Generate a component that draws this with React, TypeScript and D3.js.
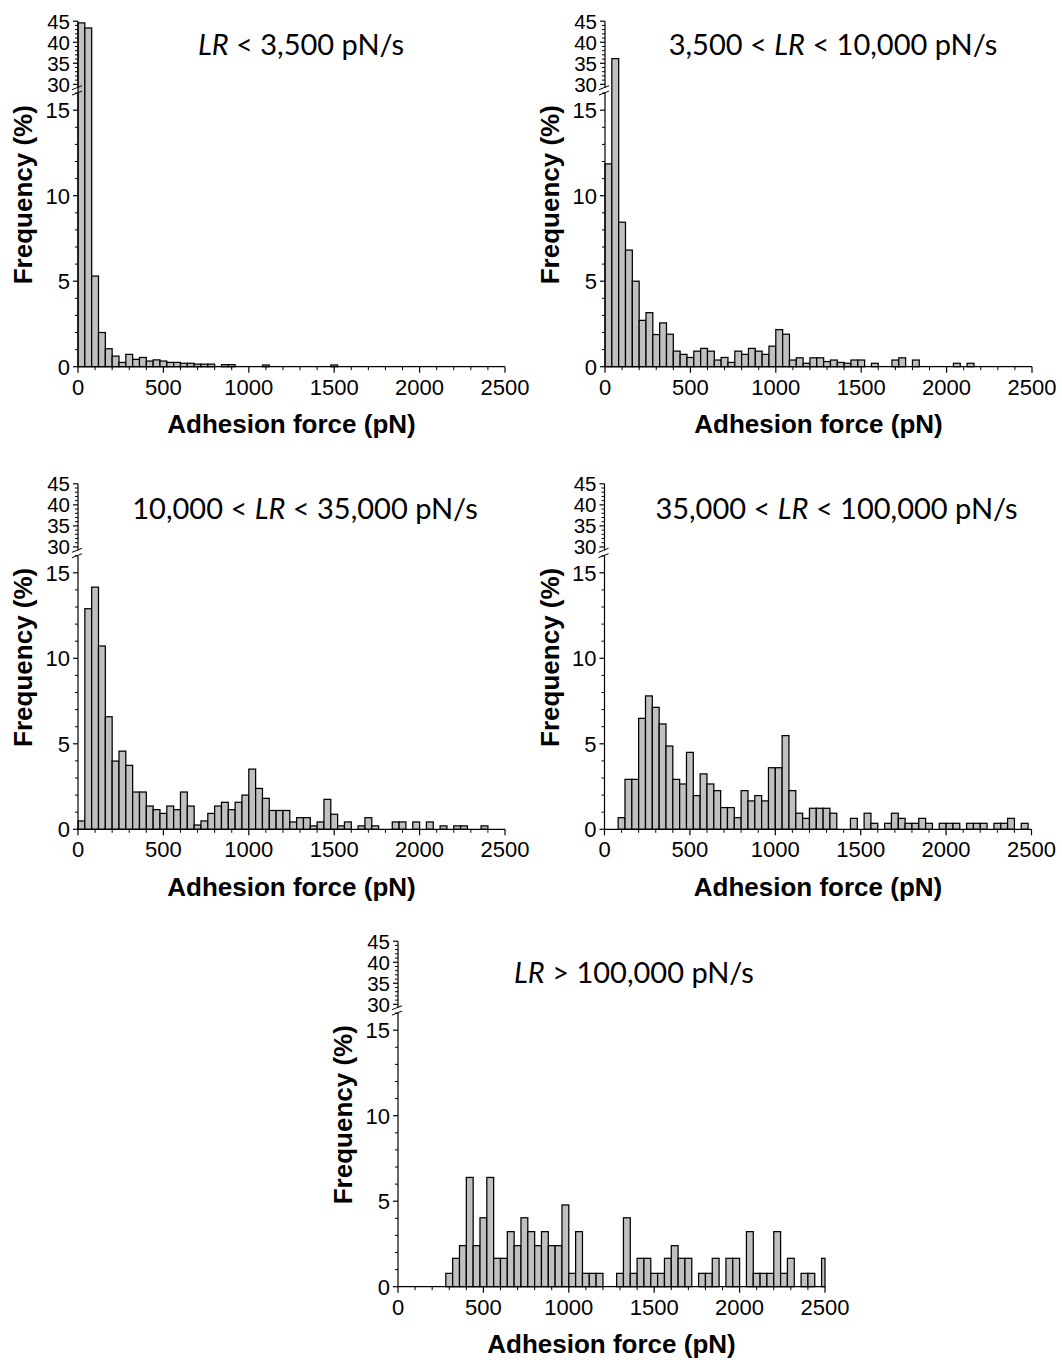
import React from "react";
import * as d3 from "d3";

// adhesion force histograms, 40 pN bins starting at 0 (bin i = [40i, 40i+40))
const binWidth = 40;
const forceMax = 2500;

const lr1 = [
  44.6, 43.4, 5.3, 2.0, 1.05, 0.62, 0.25, 0.72, 0.43, 0.54, 0.33, 0.4, 0.33, 0.25, 0.25, 0.2,
  0.2, 0.15, 0.15, 0.15, 0, 0.12, 0.12, 0, 0, 0, 0, 0.1, 0, 0, 0, 0,
  0, 0, 0, 0, 0, 0.1, 0, 0, 0, 0, 0, 0, 0, 0, 0, 0,
  0, 0, 0, 0, 0, 0, 0, 0, 0, 0, 0, 0, 0, 0, 0,
];
const lr2 = [
  11.86, 36.1, 8.45, 6.82, 5.0, 2.71, 3.16, 1.88, 2.56, 1.9, 0.91, 0.72, 0.54, 0.91, 1.07, 0.91,
  0.39, 0.54, 0.25, 0.91, 0.72, 1.07, 0.91, 0.72, 1.2, 2.17, 1.9, 0.39, 0.52, 0.2, 0.52, 0.52,
  0.3, 0.39, 0.25, 0.2, 0.39, 0.39, 0, 0.2, 0, 0, 0.39, 0.52, 0, 0.39, 0, 0,
  0, 0, 0, 0.2, 0, 0.2, 0, 0, 0, 0, 0, 0, 0, 0, 0,
];
const lr3 = [
  0.49, 12.9, 14.16, 10.72, 6.58, 3.99, 4.57, 3.74, 2.18, 2.18, 1.36, 1.15, 0.93, 1.36, 1.15, 2.18,
  1.36, 0.25, 0.49, 0.93, 1.36, 1.58, 1.15, 1.58, 2.0, 3.52, 2.39, 1.81, 1.1, 1.1, 1.1, 0.43,
  0.68, 0.68, 0.2, 0.43, 1.75, 0.88, 0.2, 0.43, 0, 0.2, 0.68, 0.2, 0, 0, 0.43, 0.43,
  0, 0.43, 0, 0.43, 0, 0.2, 0, 0.2, 0.2, 0, 0, 0.2, 0, 0, 0,
];
const lr4 = [
  0, 0, 0.68, 2.92, 2.92, 6.49, 7.8, 7.13, 6.16, 4.87, 2.92, 2.65, 4.5, 1.97, 3.24, 2.65,
  2.26, 1.27, 1.27, 0.68, 2.26, 1.66, 1.97, 1.66, 3.6, 3.6, 5.48, 2.26, 0.94, 0.64, 1.23, 1.23,
  1.23, 0.94, 0, 0, 0.64, 0, 0.94, 0.35, 0, 0.35, 0.94, 0.64, 0.35, 0.35, 0.64, 0.35,
  0, 0.35, 0.35, 0.35, 0, 0.35, 0.35, 0.35, 0, 0.35, 0.35, 0.64, 0, 0.35, 0,
];
const lr5 = [
  0, 0, 0, 0, 0, 0, 0, 0.78, 1.66, 2.4, 6.39, 2.4, 4.03, 6.39, 1.66, 1.66,
  3.22, 2.4, 4.03, 3.22, 2.4, 3.22, 2.4, 2.4, 4.78, 0.78, 3.22, 0.78, 0.78, 0.78, 0, 0,
  0.78, 4.03, 0.78, 1.66, 1.66, 0.78, 0.78, 1.66, 2.4, 1.66, 1.66, 0, 0.78, 0.78, 1.66, 0,
  1.66, 1.66, 0, 3.22, 0.78, 0.78, 0.78, 3.22, 0.78, 1.66, 0, 0.78, 0.78, 0, 1.66,
];

const xTicks = [0, 500, 1000, 1500, 2000, 2500];
const yLowTicks = [0, 5, 10, 15];
const yUpTicks = [30, 35, 40, 45];

type Part = { t: string; i?: boolean };
const titles: Part[][] = [
  [{ t: "LR", i: true }, { t: " < 3,500 pN/s" }],
  [{ t: "3,500 < " }, { t: "LR", i: true }, { t: " < 10,000 pN/s" }],
  [{ t: "10,000 < " }, { t: "LR", i: true }, { t: " < 35,000 pN/s" }],
  [{ t: "35,000 < " }, { t: "LR", i: true }, { t: " < 100,000 pN/s" }],
  [{ t: "LR", i: true }, { t: " > 100,000 pN/s" }],
];

const panels = [
  { values: lr1, title: titles[0], x0: 78, y0: 366.7, tx: 223, ty: 312 },
  { values: lr2, title: titles[1], x0: 605, y0: 366.7, tx: 228, ty: 312 },
  { values: lr3, title: titles[2], x0: 78, y0: 829.3, tx: 227, ty: 310 },
  { values: lr4, title: titles[3], x0: 604.5, y0: 829.3, tx: 232, ty: 310 },
  { values: lr5, title: titles[4], x0: 398, y0: 1286.7, tx: 236, ty: 304 },
];

const axisFont = "'Liberation Sans', Arial, sans-serif";
const titleFont = "Lato, 'Open Sans', sans-serif";

function Panel({ p }: { p: (typeof panels)[number] }) {
  const { x0, y0 } = p;
  const x = d3.scaleLinear().domain([0, forceMax]).range([x0, x0 + 427]);
  const yLow = d3.scaleLinear().domain([0, 16]).range([y0, y0 - 273.6]);
  const yUp = d3.scaleLinear().domain([29.2, 45]).range([y0 - 279, y0 - 345.5]);
  const yOf = (v: number) => (v > 16 ? yUp(v) : yLow(v));

  const xMinor = d3.range(0, forceMax + 1, 100).filter((d) => d % 500 !== 0);
  const lowMinor = d3.range(1, 17).filter((d) => d % 5 !== 0);
  const upMinor = d3.range(30, 46).filter((d) => d % 5 !== 0);
  const lowTop = yLow(16);
  const upBottom = yUp(29.2);

  return (
    <g>
      {/* bars */}
      {p.values.map((v, i) => {
        if (!v) return null;
        const a = i * binWidth;
        const b = Math.min(a + binWidth, forceMax);
        const yt = yOf(v);
        return (
          <rect
            key={i}
            x={x(a)}
            y={yt}
            width={x(b) - x(a)}
            height={y0 - yt}
            fill="#c0c0c0"
            stroke="#000"
            strokeWidth={1.25}
          />
        );
      })}

      {/* x axis */}
      <line x1={x(0)} x2={x(forceMax)} y1={y0} y2={y0} stroke="#000" strokeWidth={1.2} />
      {xTicks.map((t) => (
        <g key={t}>
          <line x1={x(t)} x2={x(t)} y1={y0} y2={y0 + 6} stroke="#000" strokeWidth={1.2} />
          <text
            x={x(t)}
            y={y0 + 28}
            textAnchor="middle"
            fontFamily={axisFont}
            fontSize={22}
          >
            {t}
          </text>
        </g>
      ))}
      {xMinor.map((t) => (
        <line key={t} x1={x(t)} x2={x(t)} y1={y0} y2={y0 + 3.5} stroke="#000" strokeWidth={1} />
      ))}
      <text
        x={x(1250)}
        y={y0 + 66.5}
        textAnchor="middle"
        fontFamily={axisFont}
        fontWeight="bold"
        fontSize={26}
      >
        Adhesion force (pN)
      </text>

      {/* y axis, lower segment */}
      <line x1={x0} x2={x0} y1={y0} y2={lowTop} stroke="#000" strokeWidth={1.2} />
      {yLowTicks.map((t) => (
        <g key={t}>
          <line x1={x0 - 5} x2={x0} y1={yLow(t)} y2={yLow(t)} stroke="#000" strokeWidth={1.2} />
          <text
            x={x0 - 8}
            y={yLow(t)}
            dy="0.36em"
            textAnchor="end"
            fontFamily={axisFont}
            fontSize={22}
          >
            {t}
          </text>
        </g>
      ))}
      {lowMinor.map((t) => (
        <line key={t} x1={x0 - 3} x2={x0} y1={yLow(t)} y2={yLow(t)} stroke="#000" strokeWidth={1} />
      ))}

      {/* y axis, upper segment (packed labels) */}
      <line x1={x0} x2={x0} y1={upBottom} y2={yUp(45)} stroke="#000" strokeWidth={1.2} />
      {yUpTicks.map((t) => (
        <g key={t}>
          <line x1={x0 - 5} x2={x0} y1={yUp(t)} y2={yUp(t)} stroke="#000" strokeWidth={1.2} />
          <text
            x={x0 - 8}
            y={yUp(t)}
            dy="0.36em"
            textAnchor="end"
            fontFamily={axisFont}
            fontSize={20.5}
          >
            {t}
          </text>
        </g>
      ))}
      {upMinor.map((t) => (
        <line key={t} x1={x0 - 3} x2={x0} y1={yUp(t)} y2={yUp(t)} stroke="#000" strokeWidth={1} />
      ))}

      {/* axis break */}
      <line x1={x0 - 6} y1={lowTop + 2} x2={x0 + 4} y2={lowTop - 2} stroke="#000" strokeWidth={1} />
      <line x1={x0 - 6} y1={upBottom + 2} x2={x0 + 4} y2={upBottom - 2} stroke="#000" strokeWidth={1} />

      <text
        transform={`translate(${x0 - 46},${y0 - 172}) rotate(-90)`}
        textAnchor="middle"
        fontFamily={axisFont}
        fontWeight="bold"
        fontSize={26}
      >
        Frequency (%)
      </text>

      <text
        x={x0 + p.tx}
        y={y0 - p.ty}
        textAnchor="middle"
        fontFamily={titleFont}
        fontSize={29}
        fill="#000"
      >
        {p.title.map((part, k) => (
          <tspan key={k} fontStyle={part.i ? "italic" : "normal"}>
            {part.t}
          </tspan>
        ))}
      </text>
    </g>
  );
}

export default function App() {
  return (
    <svg
      width={1062}
      height={1360}
      style={{ position: "absolute", left: 0, top: 0, background: "#fff" }}
    >
      {panels.map((p, i) => (
        <Panel key={i} p={p} />
      ))}
    </svg>
  );
}
